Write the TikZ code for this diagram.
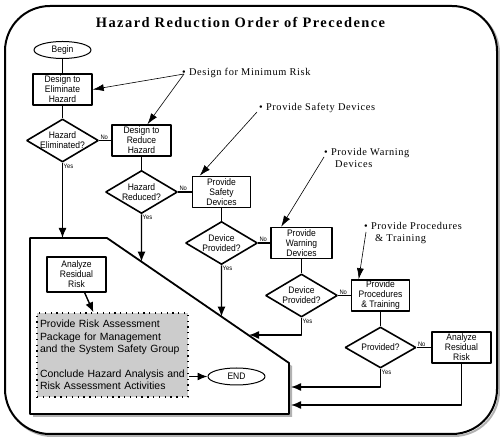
\documentclass[tikz,border=0pt]{standalone}
\usepackage{fontspec}
\setmainfont{Liberation Sans}
\newfontfamily\boxfont[FakeStretch=0.9]{Liberation Sans}
\newfontfamily\annfont[LetterSpace=6]{Liberation Serif}
\newfontfamily\headfont[LetterSpace=10]{Liberation Serif}
\usetikzlibrary{shapes.geometric,arrows.meta}
\begin{document}
\begin{tikzpicture}[>={Latex[length=10bp,width=8bp]},line join=bevel,
  stepbox/.style={draw,rectangle,line width=1.6bp,minimum width=59bp,minimum height=31bp,inner sep=0.5bp,align=center,font=\boxfont\fontsize{9.5}{10}\selectfont},
  query/.style={draw,diamond,aspect=1.67,line width=1.6bp,minimum width=72bp,minimum height=43bp,inner sep=-2bp,align=center,font=\boxfont\fontsize{9.5}{10}\selectfont},
  terminal/.style={draw,ellipse,line width=1bp,minimum width=57bp,minimum height=17bp,inner sep=0bp,font=\boxfont\fontsize{9.5}{10}\selectfont},
  flow/.style={line width=1.4bp},
  note/.style={->,>={Latex[length=11bp,width=7bp]},line width=0.6bp},
  ann/.style={anchor=west,inner sep=0bp,align=left,font=\annfont\fontsize{10.4}{12}\selectfont},
  tag/.style={inner sep=1bp,font=\boxfont\fontsize{6.5}{7}\selectfont},
]
\useasboundingbox (0bp,0bp) rectangle (500bp,439bp);
%% frame
\draw [gray!60,line width=2bp,rounded corners=45bp] (7bp,3bp) rectangle (499bp,431bp);
\draw [fill=white,line width=2bp,rounded corners=45bp] (5bp,5bp) rectangle (497bp,433bp);
\node (title) at (240.5bp,416bp) [font=\headfont\bfseries\fontsize{14.5}{17}\selectfont] {Hazard Reduction Order of Precedence};
%% closing area
\coordinate (pentTL) at (30bp,201bp);
\coordinate (pentTop) at (107bp,201bp);
\coordinate (pentBend) at (289bp,76bp);
\coordinate (pentBR) at (289bp,25bp);
\coordinate (pentBL) at (30bp,25bp);
\fill [gray!60] ([shift={(3bp,-3bp)}]pentTL) -- ([shift={(3bp,-3bp)}]pentTop) -- ([shift={(3bp,-3bp)}]pentBend) -- ([shift={(3bp,-3bp)}]pentBR) -- ([shift={(3bp,-3bp)}]pentBL) -- cycle;
\draw [fill=white,line width=1.8bp] (pentTL) -- (pentTop) -- (pentBend) -- (pentBR) -- (pentBL) -- cycle;
%% steps
\node (begin) at (62.5bp,389bp) [terminal] {Begin};
\node (elim) at (62.5bp,349.5bp) [stepbox] {Design to\\Eliminate\\Hazard};
\node (elimq) at (62.5bp,298.5bp) [query] {Hazard\\Eliminated?};
\node (reduce) at (141.5bp,298.5bp) [stepbox] {Design to\\Reduce\\Hazard};
\node (reduceq) at (141.5bp,247bp) [query] {Hazard\\Reduced?};
\node (safety) at (221.5bp,247bp) [stepbox,minimum width=58bp] {Provide\\Safety\\Devices};
\node (devq1) at (221.5bp,196bp) [query] {Device\\Provided?};
\node (warning) at (301.5bp,196bp) [stepbox,minimum width=61bp] {Provide\\Warning\\Devices};
\node (devq2) at (301.5bp,143.5bp) [query] {Device\\Provided?};
\node (training) at (380.5bp,143.5bp) [stepbox,minimum width=58bp] {Provide\\Procedures\\\& Training};
\node (provq) at (380.5bp,91.5bp) [query,minimum width=71bp,minimum height=41bp] {Provided?};
\node (residR) at (461.5bp,91.5bp) [stepbox] {Analyze\\Residual\\Risk};
\node (residL) at (76.5bp,164.5bp) [stepbox,minimum height=35bp] {Analyze\\Residual\\Risk};
\node (report) at (112.5bp,84bp) [draw,fill=gray!40,line width=1.3bp,dash pattern=on 1.3bp off 4.5bp,text width=145bp,inner xsep=3bp,minimum height=84bp,align=left,font=\fontsize{10.5}{12.5}\selectfont] {Provide Risk Assessment\\Package for Management\\and the System Safety Group\\[12.5bp]Conclude Hazard Analysis and\\Risk Assessment Activities};
\node (end) at (236.5bp,62.5bp) [terminal] {END};
%% flow
\draw [flow] (begin) -- (elim);
\draw [flow] (elim) -- (elimq);
\draw [flow] (elimq) -- (reduce);
\draw [flow,->] (elimq.south) -- (elimq.south |- pentTL);
\draw [flow] (reduce) -- (reduceq);
\draw [flow] (reduceq) -- (safety);
\draw [flow,->] (reduceq.south) -- (intersection of reduceq.south--reduceq.north and pentTop--pentBend);
\draw [flow] (safety) -- (devq1);
\draw [flow] (devq1) -- (warning);
\draw [flow,->] (devq1.south) -- (intersection of devq1.south--devq1.north and pentTop--pentBend);
\draw [flow] (warning) -- (devq2);
\draw [flow] (devq2) -- (training);
\coordinate (devqHit) at (249bp,104bp);
\draw [flow,->] (devq2.south) |- (devqHit);
\draw [flow] (training) -- (provq);
\draw [flow] (provq) -- (residR);
\coordinate (provqHit) at (291bp,52bp);
\draw [flow,->] (provq.south) |- (provqHit);
\coordinate (residHit) at (291bp,34bp);
\draw [flow,->] (residR.south) |- (residHit);
\draw [flow,->] (residL) -- (report);
\draw [flow,->] (report.east |- end) -- (end.west);
%% answers
\node (elimNo) at (elimq.east) [tag,anchor=south west] {No};
\node (elimYes) at (elimq.south) [tag,anchor=north west] {Yes};
\node (reduceNo) at (reduceq.east) [tag,anchor=south west] {No};
\node (reduceYes) at (reduceq.south) [tag,anchor=north west] {Yes};
\node (devNo1) at (devq1.east) [tag,anchor=south west] {No};
\node (devYes1) at (devq1.south) [tag,anchor=north west] {Yes};
\node (devNo2) at (devq2.east) [tag,anchor=south west] {No};
\node (devYes2) at (devq2.south) [tag,anchor=north west] {Yes};
\node (provNo) at (provq.east) [tag,anchor=south west] {No};
\node (provYes) at (provq.south) [tag,anchor=north west] {Yes};
%% notes
\node (noteMin) at (182bp,366bp) [ann] {• Design for Minimum Risk};
\coordinate (dotMin) at (184bp,365bp);
\draw [note] (dotMin) -- (elim.east);
\draw [note] (dotMin) -- ([xshift=6bp]reduce.north);
\node (noteSafety) at (259bp,331bp) [ann] {• Provide Safety Devices};
\coordinate (dotSafety) at (257bp,327bp);
\draw [note] (dotSafety) -- ([xshift=8bp]safety.north west);
\node (noteWarn) at (324bp,281.5bp) [ann] {• Provide Warning\\\hspace{11bp}Devices};
\coordinate (dotWarn) at (324bp,282bp);
\draw [note] (dotWarn) -- ([xshift=11bp]warning.north west);
\node (noteTrain) at (364bp,205.5bp) [ann] {• Provide Procedures\\\hspace{11bp}\& Training};
\coordinate (dotTrain) at (366bp,207bp);
\draw [note] (dotTrain) -- ([xshift=8bp]training.north west);
%
\end{tikzpicture}
\end{document}
